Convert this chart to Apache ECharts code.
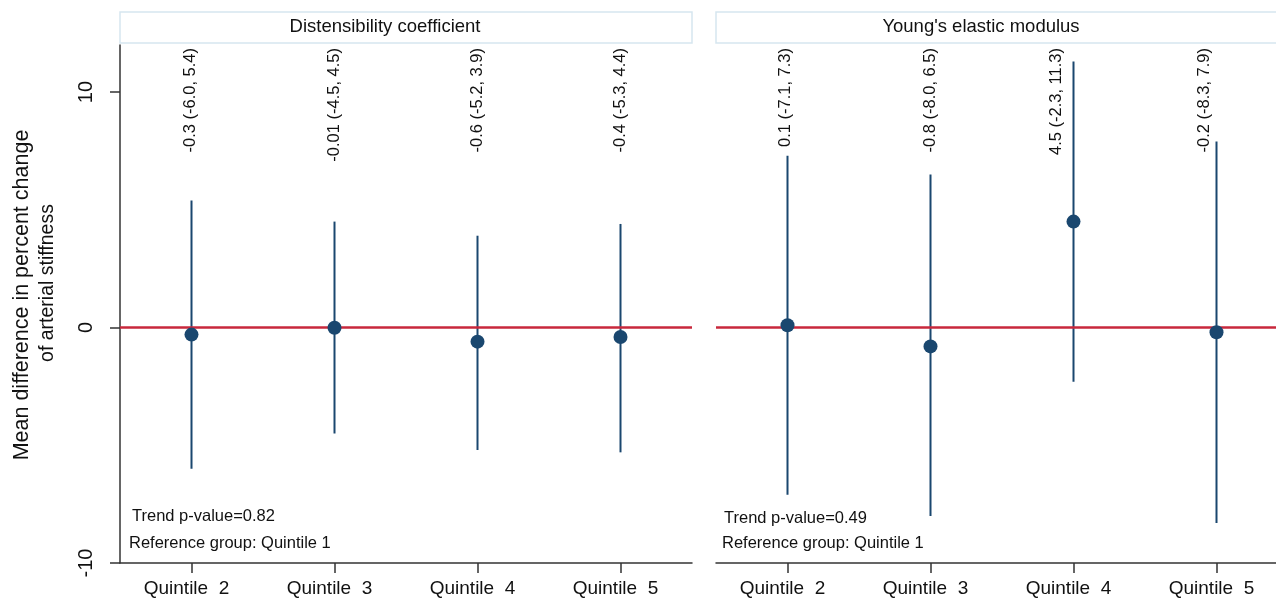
<!DOCTYPE html>
<html><head><meta charset="utf-8">
<script src="https://cdn.jsdelivr.net/npm/echarts@6/dist/echarts.min.js"></script>
<style>html,body{margin:0;padding:0;background:#fff}#c{width:1276px;height:600px}</style>
</head><body><div id="c"></div>
<script>
// ---- data ----
const categories = ['Quintile  2', 'Quintile  3', 'Quintile  4', 'Quintile  5'];
const panelTitles = ['Distensibility coefficient', "Young's elastic modulus"];
const dcEstimate = [-0.3, -0.01, -0.6, -0.4];
const dcLower = [-6.0, -4.5, -5.2, -5.3];
const dcUpper = [5.4, 4.5, 3.9, 4.4];
const dcLabels = ['-0.3 (-6.0, 5.4)', '-0.01 (-4.5, 4.5)', '-0.6 (-5.2, 3.9)', '-0.4 (-5.3, 4.4)'];
const yemEstimate = [0.1, -0.8, 4.5, -0.2];
const yemLower = [-7.1, -8.0, -2.3, -8.3];
const yemUpper = [7.3, 6.5, 11.3, 7.9];
const yemLabels = ['0.1 (-7.1, 7.3)', '-0.8 (-8.0, 6.5)', '4.5 (-2.3, 11.3)', '-0.2 (-8.3, 7.9)'];
const yTicks = [-10, 0, 10];
const Y_MIN = -10, Y_MAX = 12;
const trendTexts = ['Trend p-value=0.82', 'Trend p-value=0.49'];
const refText = 'Reference group: Quintile 1';
const yTitleLines = ['Mean difference in percent change', 'of arterial stiffness'];

// ---- style ----
const FONT = '"Liberation Sans", Arial, Helvetica, sans-serif';
const NAVY = '#1a476f';
const RED = '#c8283c';
const AX = '#333333';
const TXT = '#111111';
// horizontal pixel nudges of the rotated value labels (styling only)
const labelNudge = [[-1, 0, 0, 0], [-2, 0, -17, -12]];

const chart = echarts.init(document.getElementById('c'), null, {renderer: 'canvas'});

function ciRender(labels, nudge) {
  return function (params, api) {
    const i = api.value(0);
    const top = api.coord([i, api.value(2)]);
    const bot = api.coord([i, api.value(1)]);
    const anchor = api.coord([i, Y_MAX]);
    return {
      type: 'group',
      children: [
        {type: 'line', shape: {x1: top[0], y1: top[1], x2: bot[0], y2: bot[1]},
         style: {stroke: NAVY, lineWidth: 2}},
        {type: 'text', x: anchor[0] + nudge[i], y: anchor[1] + 3, rotation: Math.PI / 2,
         style: {text: labels[i], align: 'right', verticalAlign: 'middle',
                 fontSize: 16.5, fontFamily: FONT, fill: TXT}}
      ]
    };
  };
}

function xAxisFor(g) {
  return {
    type: 'category', gridIndex: g, data: categories, position: 'bottom',
    axisLine: {show: true, onZero: false, lineStyle: {color: AX, width: 1.5}},
    axisTick: {show: true, alignWithLabel: true, length: 10, lineStyle: {color: AX, width: 1.5}},
    axisLabel: {fontSize: 19, color: TXT, margin: 16, fontFamily: FONT, padding: [0, 10, 0, 0]},
    splitLine: {show: false}
  };
}

const panels = [
  {est: dcEstimate, lo: dcLower, hi: dcUpper, labels: dcLabels},
  {est: yemEstimate, lo: yemLower, hi: yemUpper, labels: yemLabels}
];

const series = [];
panels.forEach((p, g) => {
  series.push({
    type: 'custom', xAxisIndex: g, yAxisIndex: g, z: 2,
    renderItem: ciRender(p.labels, labelNudge[g]),
    data: categories.map((c, i) => [i, p.lo[i], p.hi[i]]),
    encode: {x: 0, y: [1, 2]},
    clip: false,
    markLine: {
      silent: true, symbol: 'none', label: {show: false},
      lineStyle: {color: RED, width: 2.5, type: 'solid'},
      data: [{yAxis: 0}]
    }
  });
  series.push({
    type: 'scatter', xAxisIndex: g, yAxisIndex: g, z: 10,
    symbol: 'circle', symbolSize: 14,
    itemStyle: {color: NAVY, opacity: 1},
    data: categories.map((c, i) => [i, p.est[i]])
  });
});

const graphic = [
  {type: 'rect', shape: {x: 120, y: 12, width: 572, height: 31},
   style: {fill: '#fff', stroke: '#d6e6f0', lineWidth: 1.5}},
  {type: 'rect', shape: {x: 716, y: 12, width: 572, height: 31},
   style: {fill: '#fff', stroke: '#d6e6f0', lineWidth: 1.5}},
  {type: 'text', x: 385, y: 27, style: {text: panelTitles[0], fontSize: 18.5, fontFamily: FONT, fill: TXT, align: 'center', verticalAlign: 'middle'}},
  {type: 'text', x: 981, y: 27, style: {text: panelTitles[1], fontSize: 18.5, fontFamily: FONT, fill: TXT, align: 'center', verticalAlign: 'middle'}},
  {type: 'text', x: 132, y: 516, style: {text: trendTexts[0], fontSize: 16.5, fontFamily: FONT, fill: TXT, align: 'left', verticalAlign: 'middle'}},
  {type: 'text', x: 129, y: 543, style: {text: refText, fontSize: 16.5, fontFamily: FONT, fill: TXT, align: 'left', verticalAlign: 'middle'}},
  {type: 'text', x: 724, y: 518, style: {text: trendTexts[1], fontSize: 16.5, fontFamily: FONT, fill: TXT, align: 'left', verticalAlign: 'middle'}},
  {type: 'text', x: 722, y: 543, style: {text: refText, fontSize: 16.5, fontFamily: FONT, fill: TXT, align: 'left', verticalAlign: 'middle'}},
  {type: 'text', x: 22, y: 295, rotation: Math.PI / 2, style: {text: yTitleLines[0], fontSize: 21.5, fontFamily: FONT, fill: TXT, align: 'center', verticalAlign: 'middle'}},
  {type: 'text', x: 48, y: 283, rotation: Math.PI / 2, style: {text: yTitleLines[1], fontSize: 19.5, fontFamily: FONT, fill: TXT, align: 'center', verticalAlign: 'middle'}}
];

chart.setOption({
  backgroundColor: '#ffffff',
  animation: false,
  grid: [
    {left: 120, top: 45, width: 572, height: 518, containLabel: false, outerBoundsMode: 'none'},
    {left: 716, top: 45, width: 572, height: 518, containLabel: false, outerBoundsMode: 'none'}
  ],
  xAxis: [xAxisFor(0), xAxisFor(1)],
  yAxis: [
    {
      type: 'value', gridIndex: 0, min: Y_MIN, max: Y_MAX, interval: 10,
      axisLine: {show: true, onZero: false, lineStyle: {color: AX, width: 1.5}},
      axisTick: {show: true, length: 10, customValues: yTicks, lineStyle: {color: AX, width: 1.5}},
      axisLabel: {show: true, rotate: 90, fontSize: 20, color: TXT, margin: 24, fontFamily: FONT, customValues: yTicks},
      splitLine: {show: false}
    },
    {
      type: 'value', gridIndex: 1, min: Y_MIN, max: Y_MAX, interval: 10,
      axisLine: {show: false, onZero: false}, axisTick: {show: false}, axisLabel: {show: false},
      splitLine: {show: false}
    }
  ],
  graphic: graphic,
  series: series
});
</script>
</body></html>
